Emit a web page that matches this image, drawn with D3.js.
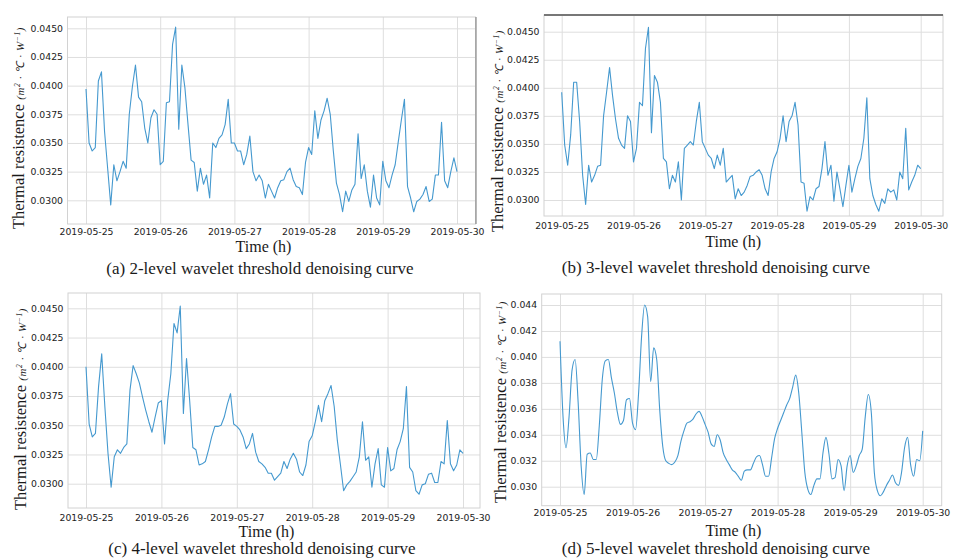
<!DOCTYPE html>
<html>
<head>
<meta charset="utf-8">
<script src="https://cdn.jsdelivr.net/npm/d3@7"></script>
<style>
body { margin: 0; background: #fff; }
.tick text { font: 9.3px "DejaVu Sans", sans-serif; fill: #222; }
.grid line { stroke: #dedede; stroke-width: 1; }
.grid path { display: none; }
.frame { fill: none; stroke: #d2d2d2; stroke-width: 1; }
.curve { fill: none; stroke: #4599cf; stroke-width: 1.1; stroke-linejoin: round; }
.xlabel, .caption, .ylabel { font-family: "Liberation Serif", "Times New Roman", serif; fill: #1a1a1a; }
</style>
</head>
<body>
<svg width="953" height="559"></svg>
<script>

// hourly readings, 2019-05-25 00:00 .. 2019-05-30 00:00
var seriesA = [
  0.0397,0.0350,0.0343,0.0346,0.0404,0.0412,0.0360,0.0328,0.0296,0.0331,0.0317,0.0325,
  0.0334,0.0328,0.0375,0.0399,0.0418,0.0390,0.0386,0.0363,0.0350,0.0372,0.0379,0.0375,
  0.0331,0.0334,0.0385,0.0386,0.0436,0.0451,0.0362,0.0418,0.0398,0.0366,0.0335,0.0333,
  0.0308,0.0328,0.0314,0.0322,0.0302,0.0350,0.0346,0.0354,0.0357,0.0366,0.0388,0.0350,
  0.0350,0.0343,0.0343,0.0331,0.0340,0.0356,0.0325,0.0317,0.0322,0.0317,0.0302,0.0314,
  0.0308,0.0302,0.0311,0.0317,0.0318,0.0325,0.0328,0.0318,0.0312,0.0311,0.0305,0.0333,
  0.0346,0.0340,0.0378,0.0354,0.0370,0.0378,0.0389,0.0375,0.0343,0.0315,0.0305,0.0290,
  0.0308,0.0299,0.0309,0.0314,0.0358,0.0319,0.0331,0.0308,0.0294,0.0322,0.0302,0.0296,
  0.0334,0.0317,0.0311,0.0322,0.0331,0.0351,0.0370,0.0388,0.0312,0.0302,0.0290,0.0299,
  0.0301,0.0305,0.0312,0.0299,0.0301,0.0322,0.0322,0.0368,0.0317,0.0311,0.0325,0.0337,
  0.0325
];
var seriesB = [
  0.0396,0.0349,0.0331,0.0358,0.0405,0.0405,0.0370,0.0322,0.0296,0.0331,0.0316,0.0322,
  0.0330,0.0331,0.0375,0.0396,0.0418,0.0393,0.0372,0.0355,0.0349,0.0346,0.0375,0.0370,
  0.0334,0.0346,0.0387,0.0384,0.0435,0.0454,0.0360,0.0411,0.0405,0.0387,0.0337,0.0334,
  0.0310,0.0322,0.0316,0.0334,0.0300,0.0346,0.0349,0.0352,0.0349,0.0370,0.0387,0.0352,
  0.0346,0.0340,0.0337,0.0328,0.0340,0.0331,0.0346,0.0316,0.0319,0.0322,0.0301,0.0310,
  0.0304,0.0307,0.0313,0.0321,0.0322,0.0325,0.0327,0.0322,0.0310,0.0304,0.0325,0.0337,
  0.0343,0.0355,0.0375,0.0352,0.0370,0.0375,0.0387,0.0367,0.0316,0.0315,0.0290,0.0303,
  0.0300,0.0310,0.0312,0.0328,0.0352,0.0322,0.0331,0.0299,0.0325,0.0310,0.0294,0.0313,
  0.0331,0.0307,0.0319,0.0330,0.0337,0.0355,0.0391,0.0319,0.0304,0.0296,0.0290,0.0301,
  0.0297,0.0310,0.0307,0.0309,0.0300,0.0325,0.0319,0.0364,0.0309,0.0316,0.0322,0.0331,
  0.0328
];
var seriesC = [
  0.0400,0.0351,0.0340,0.0343,0.0383,0.0411,0.0366,0.0326,0.0297,0.0323,0.0329,0.0326,
  0.0331,0.0334,0.0380,0.0401,0.0394,0.0386,0.0374,0.0363,0.0353,0.0344,0.0357,0.0369,
  0.0371,0.0334,0.0371,0.0394,0.0437,0.0429,0.0452,0.0360,0.0407,0.0371,0.0331,0.0329,
  0.0316,0.0317,0.0319,0.0329,0.0340,0.0349,0.0349,0.0350,0.0357,0.0368,0.0377,0.0351,
  0.0349,0.0346,0.0340,0.0330,0.0334,0.0343,0.0327,0.0319,0.0317,0.0314,0.0309,0.0309,
  0.0303,0.0306,0.0309,0.0319,0.0313,0.0321,0.0326,0.0321,0.0310,0.0307,0.0316,0.0336,
  0.0341,0.0353,0.0367,0.0353,0.0371,0.0377,0.0384,0.0366,0.0337,0.0316,0.0294,0.0299,
  0.0302,0.0306,0.0310,0.0323,0.0353,0.0320,0.0323,0.0297,0.0317,0.0330,0.0299,0.0297,
  0.0331,0.0311,0.0313,0.0329,0.0336,0.0347,0.0383,0.0314,0.0310,0.0294,0.0291,0.0299,
  0.0300,0.0308,0.0309,0.0301,0.0301,0.0319,0.0317,0.0354,0.0317,0.0311,0.0316,0.0329,
  0.0326
];
var seriesD = [
  0.0412,0.0354,0.0330,0.0354,0.0390,0.0398,0.0365,0.0316,0.0294,0.0325,0.0326,0.0321,
  0.0321,0.0347,0.0383,0.0397,0.0398,0.0384,0.0372,0.0357,0.0348,0.0351,0.0367,0.0368,
  0.0349,0.0344,0.0372,0.0416,0.0440,0.0431,0.0381,0.0407,0.0398,0.0359,0.0331,0.0320,
  0.0318,0.0317,0.0319,0.0324,0.0335,0.0343,0.0349,0.0350,0.0352,0.0356,0.0358,0.0354,
  0.0348,0.0342,0.0333,0.0331,0.0340,0.0336,0.0326,0.0321,0.0317,0.0313,0.0311,0.0308,
  0.0305,0.0312,0.0313,0.0313,0.0318,0.0323,0.0324,0.0317,0.0308,0.0308,0.0322,0.0337,
  0.0345,0.0351,0.0357,0.0363,0.0368,0.0377,0.0386,0.0372,0.0342,0.0311,0.0298,0.0294,
  0.0301,0.0306,0.0306,0.0326,0.0338,0.0325,0.0306,0.0307,0.0321,0.0316,0.0297,0.0316,
  0.0324,0.0311,0.0316,0.0324,0.0329,0.0354,0.0371,0.0357,0.0311,0.0297,0.0293,0.0296,
  0.0301,0.0305,0.0309,0.0303,0.0301,0.0311,0.0330,0.0338,0.0317,0.0308,0.0321,0.0320,
  0.0343
];

var dayLabels = ["2019-05-25", "2019-05-26", "2019-05-27", "2019-05-28", "2019-05-29", "2019-05-30"];
var yTicks4 = [0.0300, 0.0325, 0.0350, 0.0375, 0.0400, 0.0425, 0.0450];
var yTicks3 = [0.030, 0.032, 0.034, 0.036, 0.038, 0.040, 0.042, 0.044];
var captions = [
  "(a) 2-level wavelet threshold denoising curve",
  "(b) 3-level wavelet threshold denoising curve",
  "(c) 4-level wavelet threshold denoising curve",
  "(d) 5-level wavelet threshold denoising curve"
];

var parseDay = d3.timeParse("%Y-%m-%d");
var days = dayLabels.map(parseDay);
var t0 = days[0];
function hourDate(i) { return d3.timeHour.offset(t0, i); }

var svg = d3.select("svg");

// frame box, x range (first/last day tick), y range (lo/hi tick), label positions
var panels = [
  { data: seriesA, ticks: yTicks4, fmt: ".4f", curve: d3.curveLinear,
    box: [67.5, 17, 475.5, 224], xr: [86, 457], yr: [200.3, 28.3],
    ylab: [18, 128], tlab: 252, cap: 274, capX: 260, xlabY: 231 },
  { data: seriesB, ticks: yTicks4, fmt: ".4f", curve: d3.curveLinear,
    box: [544, 15, 943, 216], xr: [561.7, 920.7], yr: [200, 31.7],
    ylab: [497, 131], tlab: 247, cap: 273, capX: 716, xlabY: 225 },
  { data: seriesC, ticks: yTicks4, fmt: ".4f", curve: d3.curveLinear,
    box: [68, 293, 480, 508], xr: [86, 463], yr: [483.7, 308.3],
    ylab: [20, 409], tlab: 537, cap: 554, capX: 262, xlabY: 517 },
  { data: seriesD, ticks: yTicks3, fmt: ".3f", curve: d3.curveMonotoneX,
    box: [541.7, 294, 941.7, 505.7], xr: [560, 922.7], yr: [486.7, 305],
    ylab: [500, 402], tlab: 536, cap: 554, capX: 716, xlabY: 512 }
];

panels.forEach(function(p, k) {
  var b = p.box;
  var x = d3.scaleTime().domain([days[0], days[days.length - 1]]).range(p.xr);
  var y = d3.scaleLinear().domain([p.ticks[0], p.ticks[p.ticks.length - 1]]).range(p.yr);
  var g = svg.append("g");

  // grid
  g.append("g").attr("class", "grid")
      .attr("transform", "translate(0," + b[3] + ")")
      .call(d3.axisBottom(x).tickValues(days).tickSize(-(b[3] - b[1])).tickFormat(""));
  g.append("g").attr("class", "grid")
      .attr("transform", "translate(" + b[0] + ",0)")
      .call(d3.axisLeft(y).tickValues(p.ticks).tickSize(-(b[2] - b[0])).tickFormat(""));

  g.append("rect").attr("class", "frame")
      .attr("x", b[0]).attr("y", b[1])
      .attr("width", b[2] - b[0]).attr("height", b[3] - b[1]);

  // tick labels
  var xa = g.append("g")
      .attr("transform", "translate(0," + b[3] + ")")
      .call(d3.axisBottom(x).tickValues(days).tickSize(0).tickPadding(p.xlabY - b[3] - 3)
        .tickFormat(d3.timeFormat("%Y-%m-%d")));
  xa.select(".domain").remove();
  var ya = g.append("g")
      .attr("transform", "translate(" + b[0] + ",0)")
      .call(d3.axisLeft(y).tickValues(p.ticks).tickSize(0).tickPadding(4.5).tickFormat(d3.format(p.fmt)));
  ya.select(".domain").remove();

  // series
  var line = d3.line()
      .x(function(d, i) { return x(hourDate(i)); })
      .y(function(d) { return y(d); })
      .curve(p.curve);
  g.append("path").datum(p.data).attr("class", "curve").attr("d", line);

  // axis titles
  g.append("text").attr("class", "xlabel")
      .attr("x", (p.xr[0] + p.xr[1]) / 2 - 8).attr("y", p.tlab)
      .attr("text-anchor", "middle").style("font-size", "16px")
      .text("Time (h)");
  g.append("text").attr("class", "caption")
      .attr("x", p.capX).attr("y", p.cap)
      .attr("text-anchor", "middle").style("font-size", "17px")
      .text(captions[k]);

  var yl = g.append("text").attr("class", "ylabel")
      .attr("transform", "translate(" + p.ylab[0] + "," + p.ylab[1] + ") rotate(-90)")
      .attr("text-anchor", "middle").attr("dy", "0.35em")
      .style("font-size", "16.5px");
  yl.append("tspan").text("Thermal resistence  ");
  var u = yl.append("tspan").style("font-size", "11px").style("font-style", "italic")
      .style("letter-spacing", "0.6px");
  u.append("tspan").text("(m");
  u.append("tspan").attr("dy", "-4").style("font-size", "7.5px").text("2");
  u.append("tspan").attr("dy", "4").text(" \u00b7 \u2103 \u00b7 W");
  u.append("tspan").attr("dy", "-4").style("font-size", "7.5px").text("\u22121");
  u.append("tspan").attr("dy", "4").text(")");
});

// darker edges seen in the scanned figure
svg.append("line").attr("x1", 476).attr("x2", 476).attr("y1", 17).attr("y2", 224)
    .attr("stroke", "#8a8a8a").attr("stroke-width", 1.2);
svg.append("line").attr("x1", 544).attr("x2", 943).attr("y1", 15).attr("y2", 15)
    .attr("stroke", "#777").attr("stroke-width", 2);

</script>
</body>
</html>
